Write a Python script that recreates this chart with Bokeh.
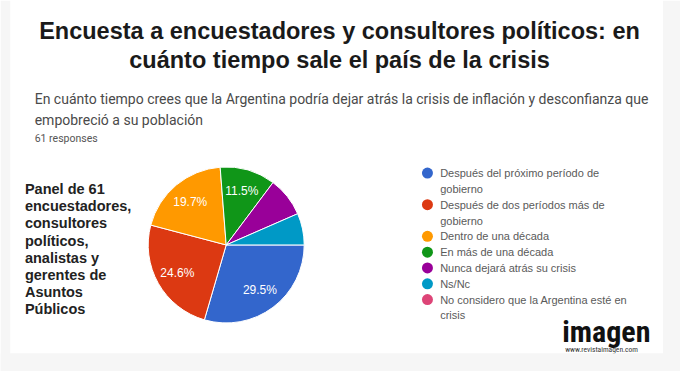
import math
from bokeh.plotting import figure
from bokeh.models import Range1d, BoxAnnotation
from bokeh.core.properties import value
from bokeh.embed import file_html
from bokeh.resources import INLINE

# ---------------- data ----------------
title_lines = ["Encuesta a encuestadores y consultores políticos: en",
               "cuánto tiempo sale el país de la crisis"]
question_lines = ["En cuánto tiempo crees que la Argentina podría dejar atrás la crisis de inflación y desconfianza que",
                  "empobreció a su población"]
responses_text = "61 responses"
panel_lines = ["Panel de 61", "encuestadores,", "consultores", "políticos,",
               "analistas y", "gerentes de", "Asuntos", "Públicos"]
categories = ["Después del próximo período de\ngobierno",
              "Después de dos períodos más de\ngobierno",
              "Dentro de una década",
              "En más de una década",
              "Nunca dejará atrás su crisis",
              "Ns/Nc",
              "No considero que la Argentina esté en\ncrisis"]
counts = [18, 15, 12, 7, 5, 4, 0]
colors = ["#3366cc", "#dc3912", "#ff9900", "#109618", "#990099", "#0099c6", "#dd4477"]
logo_text = "imagen"
logo_url = "www.revistaimagen.com"

# ---------------- canvas ----------------
W, H = 680, 371
SX, SY = W / 696, H / 387


def X(xr):
    return xr * SX


def Y(yr):
    return H - yr * SY


p = figure(width=W, height=H, output_backend="svg", toolbar_location=None,
           x_range=Range1d(0, W), y_range=Range1d(0, H), min_border=0,
           background_fill_color="white", border_fill_color="white")
p.axis.visible = False
p.grid.visible = False
p.outline_line_color = None

# light grey frame strips
grey = "#f6f6f6"
p.add_layout(BoxAnnotation(left=X(678), right=W, bottom=0, top=H, fill_color=grey, fill_alpha=1, line_color=None))
p.add_layout(BoxAnnotation(left=0, right=W, bottom=0, top=Y(368), fill_color=grey, fill_alpha=1, line_color=None))
p.add_layout(BoxAnnotation(left=0, right=X(10), bottom=0, top=H, fill_color=grey, fill_alpha=1, line_color=None))

# title
p.text(x=[X(347)] * 2, y=[Y(32), Y(62)], text=title_lines, text_align="center",
       text_baseline="alphabetic", text_font=value("Liberation Sans"), text_font_style="bold",
       text_font_size="23.5px", text_color="#1a1a1a")

# question
p.text(x=[X(35)] * 2, y=[Y(103), Y(125)], text=question_lines, text_align="left",
       text_baseline="alphabetic", text_font=value("Roboto"), text_font_size="14px", text_color="#4a4a4a")
p.text(x=[X(35)], y=[Y(144)], text=[responses_text], text_align="left",
       text_baseline="alphabetic", text_font=value("Roboto"), text_font_size="10.5px", text_color="#555555")

# panel text
p.text(x=[X(25)] * len(panel_lines), y=[Y(197 + 17.8 * i) for i in range(len(panel_lines))],
       text=panel_lines, text_align="left", text_baseline="middle",
       text_font=value("Liberation Sans"), text_font_style="bold", text_font_size="14.5px",
       text_color="#222222")

# pie
cx, cy, R = X(231), Y(255), 78
total = sum(counts)
starts, ends, lx, ly, labels = [], [], [], [], []
acc = 0.0
for c in counts:
    a0 = acc / total * 2 * math.pi
    acc += c
    a1 = acc / total * 2 * math.pi
    starts.append(-a0)
    ends.append(-a1)
    mid = -(a0 + a1) / 2
    lx.append(cx + 0.72 * R * math.cos(mid))
    ly.append(cy + 0.72 * R * math.sin(mid))
    labels.append(f"{100 * c / total:.1f}%" if c / total >= 0.1 else "")

nz = [i for i, c in enumerate(counts) if c > 0]
p.wedge(x=[cx] * len(nz), y=[cy] * len(nz), radius=R,
        start_angle=[starts[i] for i in nz], end_angle=[ends[i] for i in nz],
        direction="clock", fill_color=[colors[i] for i in nz], line_color="white", line_width=1)
p.text(x=lx, y=ly, text=labels, text_align="center", text_baseline="middle",
       text_font=value("Liberation Sans"), text_font_size="12px", text_color="white")

# legend
ly0, pitch = 180, 16.5
dot_x, dot_y, tx, ty, tt = [], [], [], [], []
yy = ly0
for cat in categories:
    dot_x.append(X(437))
    dot_y.append(Y(yy))
    for line in cat.split("\n"):
        tx.append(X(450))
        ty.append(Y(yy))
        tt.append(line)
        yy += pitch
p.circle(x=dot_x, y=dot_y, radius=5.5, fill_color=colors, line_color=None)
p.text(x=tx, y=ty, text=tt, text_align="left", text_baseline="middle",
       text_font=value("Liberation Sans"), text_font_size="11px", text_color="#5a5a5a")

# logo
p.text(x=[X(575)], y=[Y(345)], text=[logo_text], text_align="left", text_baseline="alphabetic",
       text_font=value("Roboto Condensed"),
       text_font_style="bold", text_font_size="30px", text_color="#111111")
p.text(x=[X(578)], y=[Y(364)], text=[logo_url], text_align="left", text_baseline="middle",
       text_font=value("Roboto Condensed"),
       text_font_size="7.5px", text_color="#333333")

open("out.html", "w").write(file_html(p, INLINE))
